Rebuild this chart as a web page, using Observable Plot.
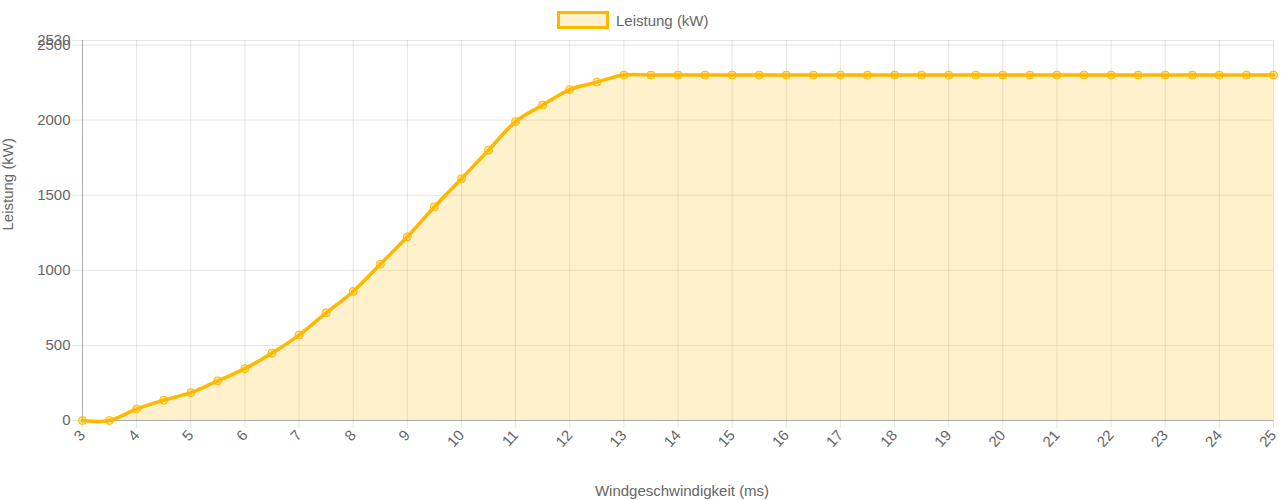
<!DOCTYPE html>
<html>
<head>
<meta charset="utf-8">
<script src="https://cdn.jsdelivr.net/npm/d3@7"></script>
<script src="https://cdn.jsdelivr.net/npm/@observablehq/plot@0.6"></script>
<style>
  body { margin: 0; background: white; font-family: "Liberation Sans", Arial, sans-serif; }
  #wrap { position: relative; width: 1282px; height: 500px; }
  #legend { position: absolute; left: 557px; top: 10px; height: 20px; display: flex; align-items: center; color: #666; font-size: 15px; }
  #legend .sw { width: 46px; height: 12px; border: 3px solid #ffb800; background: rgba(255,184,0,0.2); margin-right: 7px; }
  #chart { position: absolute; left: 0; top: 30px; }
</style>
</head>
<body>
<div id="wrap">
  <div id="legend"><div class="sw"></div><span>Leistung (kW)</span></div>
  <div id="chart"></div>
</div>
<script>
const speeds = [3, 3.5, 4, 4.5, 5, 5.5, 6, 6.5, 7, 7.5, 8, 8.5, 9, 9.5, 10, 10.5, 11, 11.5, 12, 12.5,
  13, 13.5, 14, 14.5, 15, 15.5, 16, 16.5, 17, 17.5, 18, 18.5, 19, 19.5, 20, 20.5, 21, 21.5, 22, 22.5,
  23, 23.5, 24, 24.5, 25];
const power = [0, 0, 77, 135, 185, 264, 345, 449, 569, 717, 859, 1040, 1223, 1423, 1610, 1800, 1990, 2100, 2203, 2253,
  2300, 2300, 2300, 2300, 2300, 2300, 2300, 2300, 2300, 2300, 2300, 2300, 2300, 2300, 2300, 2300, 2300, 2300, 2300, 2300,
  2300, 2300, 2300, 2300, 2300];
const xTicks = [3, 4, 5, 6, 7, 8, 9, 10, 11, 12, 13, 14, 15, 16, 17, 18, 19, 20, 21, 22, 23, 24, 25];
const yTicks = [0, 500, 1000, 1500, 2000, 2500, 2530];
const seriesLabel = "Leistung (kW)";
const xTitle = "Windgeschwindigkeit (ms)";

const data = speeds.map((s, i) => ({speed: s, power: power[i]}));
const lineColor = "#ffb800";
const gridColor = "rgba(0,0,0,0.1)";

const chart = Plot.plot({
  width: 1282,
  height: 470,
  marginTop: 10,
  marginBottom: 80,
  marginLeft: 82,
  marginRight: 9,
  style: {fontFamily: '"Liberation Sans", Arial, sans-serif', fontSize: "15px", color: "#666", background: "white", overflow: "visible"},
  x: {domain: [3, 25], ticks: xTicks, tickFormat: d => String(d), tickSize: 0, tickPadding: 12, tickRotate: -48, label: null},
  y: {domain: [0, 2530], ticks: yTicks, tickFormat: d => String(d), tickSize: 0, tickPadding: 12, label: null},
  marks: [
    Plot.ruleX(xTicks, {stroke: gridColor, insetBottom: -8}),
    Plot.ruleY(yTicks, {stroke: gridColor, insetLeft: -10}),
    Plot.areaY(data, {x: "speed", y: "power", fill: lineColor, fillOpacity: 0.2, curve: "catmull-rom"}),
    Plot.ruleY([0], {stroke: "rgba(0,0,0,0.25)"}),
    Plot.ruleX([3], {stroke: "rgba(0,0,0,0.25)"}),
    Plot.lineY(data, {x: "speed", y: "power", stroke: lineColor, strokeWidth: 3.5, curve: "catmull-rom"}),
    Plot.dot(data, {x: "speed", y: "power", r: 4, fill: lineColor, fillOpacity: 0.4, stroke: lineColor, strokeWidth: 1}),
    Plot.text([seriesLabel], {frameAnchor: "left", rotate: -90, dx: -74, fill: "#666", fontSize: 15}),
    Plot.text([xTitle], {frameAnchor: "bottom", dy: 75, dx: 4, fill: "#666", fontSize: 15})
  ]
});
document.getElementById("chart").appendChild(chart);
</script>
</body>
</html>
